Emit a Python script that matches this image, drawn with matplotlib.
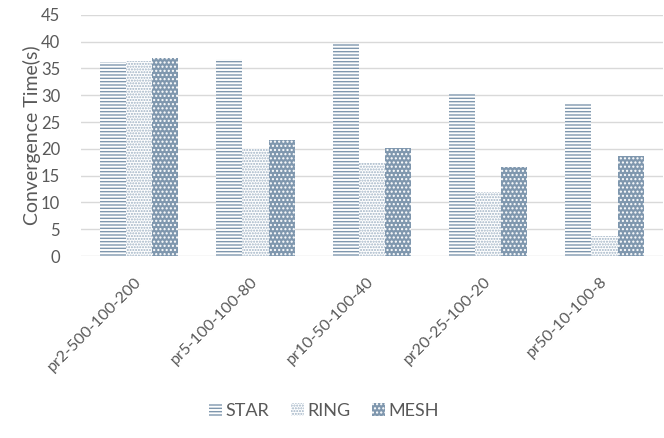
import matplotlib.pyplot as plt
import matplotlib.transforms as mtransforms
import numpy as np

plt.rcParams['font.family'] = ['Lato', 'DejaVu Sans']
plt.rcParams['hatch.linewidth'] = 1.0

# convergence times per topology
configs = ['pr2-500-100-200', 'pr5-100-100-80', 'pr10-50-100-40',
           'pr20-25-100-20', 'pr50-10-100-8']
star = [36.2, 36.7, 39.5, 30.2, 28.5]
ring = [36.4, 20.0, 17.3, 11.9, 3.8]
mesh = [37.0, 21.6, 20.1, 16.7, 18.7]

blue = '#7f97ae'
txt = '#595959'

fig = plt.figure(figsize=(6.64, 4.38), dpi=100)
ax = fig.add_axes([0.122, 0.4155, 0.876, 0.5505])

x = np.arange(len(configs))
w = 0.225
ax.bar(x - w, star, w, facecolor='white', edgecolor=blue, hatch='-----', lw=0, label='STAR')
ax.bar(x, ring, w, facecolor='white', edgecolor='#9fb2c4', hatch='......', lw=0, label='RING')
ax.bar(x + w, mesh, w, facecolor=blue, edgecolor='white', hatch='....', lw=0, label='MESH')

ax.set_ylim(0, 45)
ax.set_yticks(range(0, 46, 5))
ax.set_xlim(-0.5, 4.5)
ax.set_xticks(x)
ax.set_xticklabels(configs, rotation=45, ha='right', va='center',
                   rotation_mode='anchor', fontsize=11.5)
# nudge the slanted labels a bit to the right
shift = mtransforms.ScaledTranslation(8 / 100, 0, fig.dpi_scale_trans)
for lab in ax.get_xticklabels():
    lab.set_transform(lab.get_transform() + shift)
ax.yaxis.grid(True, color='#d9d9d9', lw=1)
ax.set_axisbelow(True)
for s in ax.spines.values():
    s.set_visible(False)
ax.tick_params(length=0, colors=txt)
ax.tick_params(axis='y', pad=15, labelsize=12)
ax.tick_params(axis='x', pad=17)
ax.set_ylabel('Convergence Time(s)', fontsize=14, color=txt, labelpad=0)

fig.legend(loc='center', bbox_to_anchor=(0.488, 0.062), ncol=3, frameon=False,
           fontsize=13, labelcolor=txt, handlelength=0.7, handleheight=0.7,
           handletextpad=0.2, columnspacing=1.2)

fig.savefig('out.png', dpi=100)
